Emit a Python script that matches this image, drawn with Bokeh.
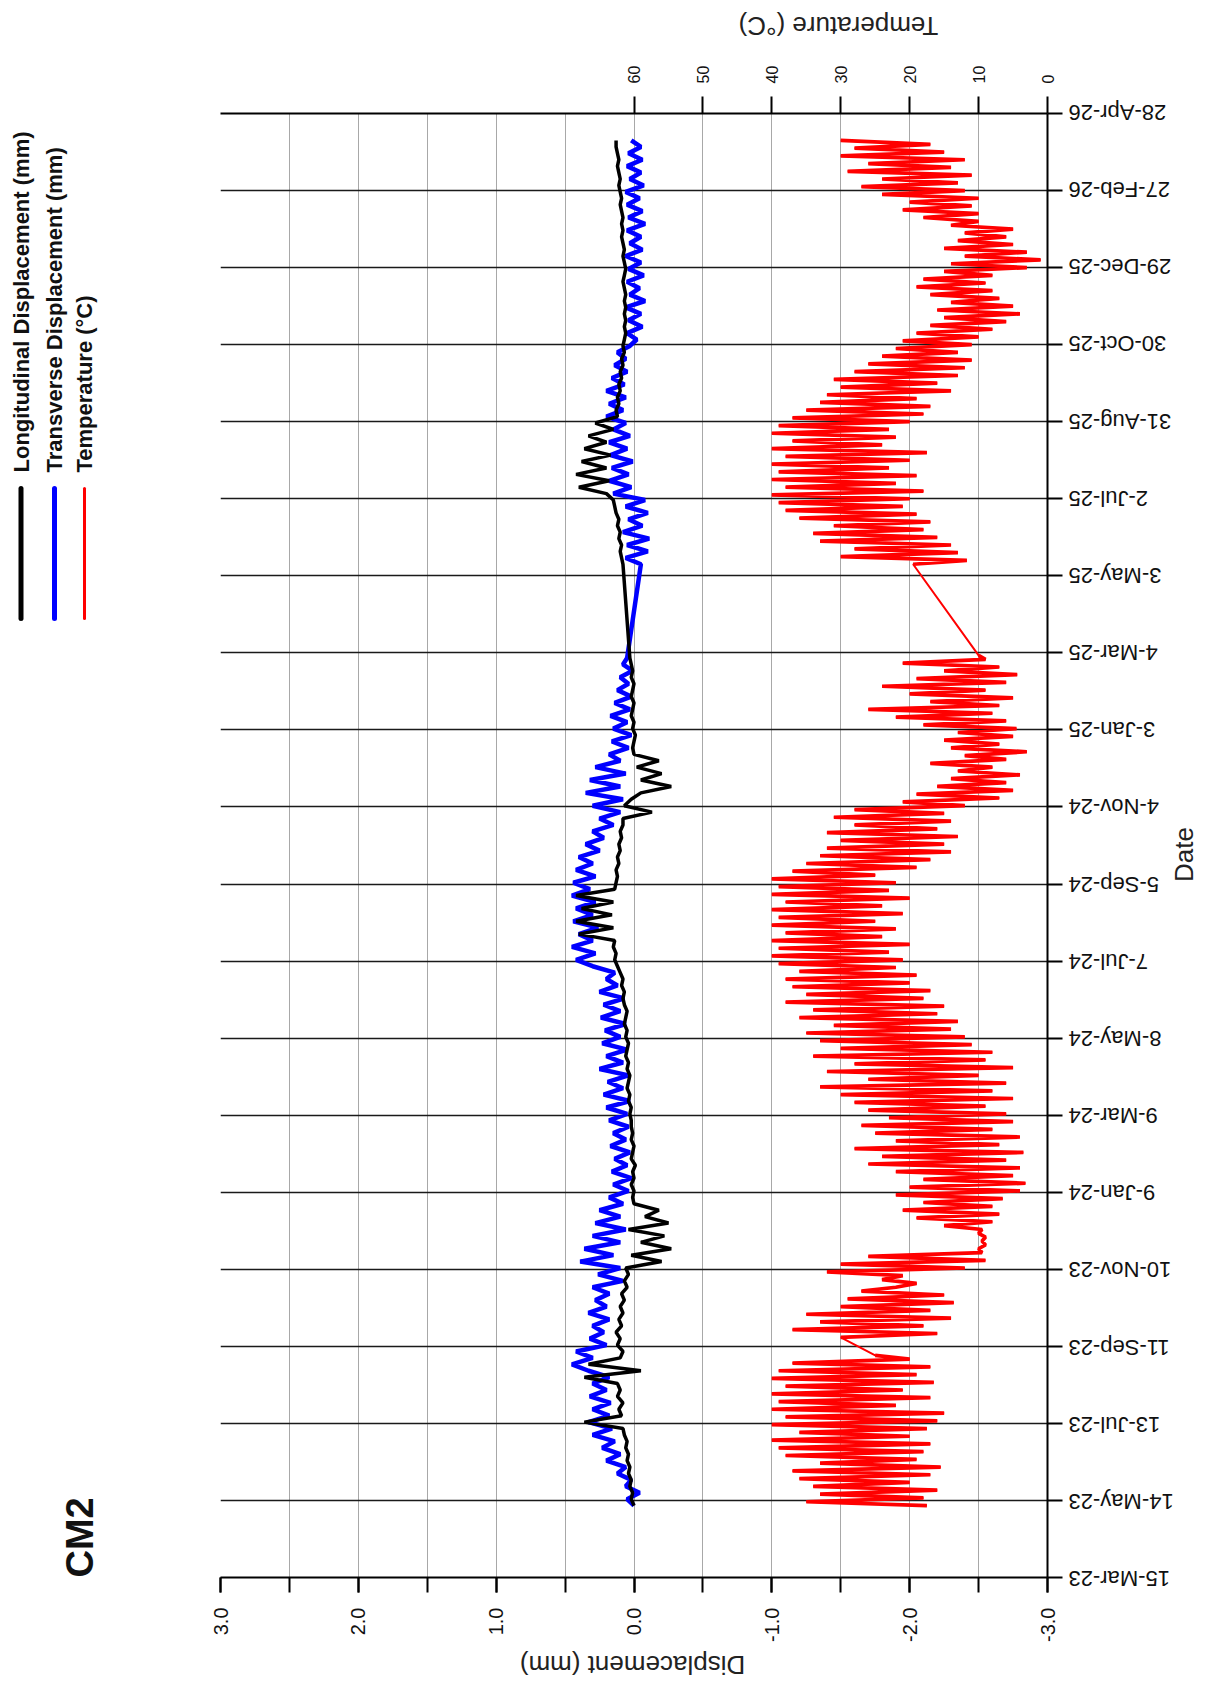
import math
import pandas as pd
from bokeh.plotting import figure
from bokeh.layouts import row, column
from bokeh.models import (Range1d, LinearAxis, FixedTicker, ColumnDataSource, PrintfTickFormatter)
from bokeh.core.properties import value
from bokeh.embed import file_html
from bokeh.resources import INLINE

# ---------------- data ----------------
date_tick_values = ["2023-03-15", "2023-05-14", "2023-07-13", "2023-09-11", "2023-11-10",
                    "2024-01-09", "2024-03-09", "2024-05-08", "2024-07-07", "2024-09-05",
                    "2024-11-04", "2025-01-03", "2025-03-04", "2025-05-03", "2025-07-02",
                    "2025-08-31", "2025-10-30", "2025-12-29", "2026-02-27", "2026-04-28"]
date_tick_labels = ["15-Mar-23", "14-May-23", "13-Jul-23", "11-Sep-23", "10-Nov-23",
                    "9-Jan-24", "9-Mar-24", "8-May-24", "7-Jul-24", "5-Sep-24",
                    "4-Nov-24", "3-Jan-25", "4-Mar-25", "3-May-25", "2-Jul-25",
                    "31-Aug-25", "30-Oct-25", "29-Dec-25", "27-Feb-26", "28-Apr-26"]
disp_ticks = [-3.0, -2.0, -1.0, 0.0, 1.0, 2.0, 3.0]
disp_minor_ticks = [-3.0, -2.5, -2.0, -1.5, -1.0, -0.5, 0.0, 0.5, 1.0, 1.5, 2.0, 2.5, 3.0]
temp_ticks = [0, 10, 20, 30, 40, 50, 60]

# temperature (deg C), 3-day readings per logging segment
temp_seg_starts = ["2023-05-10", "2023-09-18", "2025-05-12"]
temp_step_days = 3
temp_2023 = [17.5, 35, 18, 33, 16, 34, 20, 36, 17, 37, 15.5, 33, 19, 38, 18, 39, 17, 40, 20, 36,
             17.5, 40, 16, 38, 15, 40, 22, 39, 17, 40, 21, 38, 16.5, 40, 19, 39, 17, 37, 20, 25]
temp_2023_2025 = [30, 16, 37, 18, 33, 14, 35, 17, 30, 13.6, 29, 15, 27,
                  22, 19, 24, 21, 32, 12, 30, 9, 26, 9.5,
                  10, 9, 9.5, 9, 10, 9.5,
                  15, 8, 19, 7, 21, 8, 18, 6.5, 22,
                  4, 20, 3.2, 18, 5, 22, 4,
                  26, 6, 24, 3.5, 28, 7, 22, 4, 25, 8, 27, 5, 23, 6, 26, 9, 28, 5,
                  30, 8, 33, 6, 26, 10, 32, 5, 28, 9, 34, 8, 30, 11, 33,
                  12, 35, 14, 31, 13, 36, 16, 34, 15, 38, 18, 35, 17, 37, 20, 38, 19, 36, 22, 39,
                  21, 40, 23, 39, 20, 40, 24, 38, 22, 40, 25, 39, 21, 40, 24, 38, 20, 40, 23, 39,
                  22, 40, 25, 37, 19, 35, 17, 33, 14, 32, 15, 30, 13, 32, 16, 28, 14, 31, 15, 28,
                  12, 21, 7, 19, 5, 16, 6, 14, 4, 13, 8, 17, 6, 12, 3, 14, 7, 15, 5, 13,
                  4.5, 18, 6, 22, 8, 26, 7, 17, 5, 20, 9, 24, 6, 19, 4.4, 15, 7, 21, 9, 10]
temp_2025 = [19.5, 11.7, 30, 13, 28, 14, 33, 16, 34, 18, 31, 17, 36, 19, 38, 21, 39,
             20, 40, 18, 38, 22, 40, 19, 39, 23, 40, 20, 38, 17.5, 40, 24, 37, 22, 40, 23, 39,
             20, 37, 18, 35, 17, 33, 19, 32, 14, 30, 16, 31, 13, 28, 12, 26, 11, 24, 13, 22,
             11, 21, 10, 19, 8, 17, 6, 15, 4, 16, 5, 14, 7, 17, 8, 19, 9, 18, 8, 15,
             3, 14, 1, 12, 3, 15, 5, 13, 6, 12, 5, 14,
             10, 18, 10, 21, 11, 20, 10, 24, 12, 27, 13, 24, 11, 29, 14, 26, 12, 30, 15, 28, 17, 30]

# displacement (mm), 5-day readings per logging segment
disp_seg_starts = ["2023-05-10", "2025-05-12"]
disp_step_days = 5
long_2023_2025 = [0.0, 0.02, 0.01, 0.03, 0.02, 0.04, 0.03, 0.05, 0.04, 0.06, 0.05, 0.07, 0.08,
                  0.36,
                  0.09, 0.11, 0.08, 0.12, 0.1, 0.12,
                  0.36, -0.05, 0.33, 0.1,
                  0.08, 0.12, 0.1, 0.13, 0.09, 0.11, 0.08, 0.1, 0.07, 0.09,
                  0.05, 0.07, 0.04,
                  0.06, -0.2, 0.02, -0.27, -0.05, -0.22, 0.04, -0.25, -0.08, -0.18, 0.0,
                  0.01, 0.0, 0.02, 0.0, 0.01, -0.01, 0.02, 0.01, 0.0, 0.02, 0.01, 0.02,
                  0.02, 0.03, 0.02, 0.04, 0.03, 0.05, 0.04, 0.03, 0.05, 0.04, 0.06, 0.05,
                  0.04, 0.06, 0.05, 0.07, 0.06, 0.05, 0.07, 0.08, 0.07, 0.09, 0.08, 0.1,
                  0.12, 0.14, 0.13, 0.15, 0.14, 0.4, 0.15, 0.42, 0.16, 0.38, 0.15, 0.42, 0.14,
                  0.13, 0.12, 0.13, 0.11, 0.12, 0.1, 0.11, 0.09, 0.1, 0.08,
                  0.08, -0.13, 0.07, 0.02, -0.05, -0.27, -0.05, -0.2, -0.02, -0.18,
                  0.0, 0.01, 0.0, -0.01, 0.01, 0.0, 0.02, 0.01, 0.0, 0.02, 0.01, 0.0, 0.02, 0.01, 0.02, 0.03]
long_2025_2026 = [0.08, 0.09, 0.1, 0.09, 0.11, 0.1, 0.12, 0.11, 0.13, 0.14, 0.15,
                  0.2, 0.4, 0.18, 0.42, 0.2, 0.38, 0.17, 0.36, 0.2, 0.33, 0.15, 0.28,
                  0.12, 0.13, 0.11, 0.12, 0.1, 0.11, 0.09, 0.1, 0.08, 0.09, 0.07, 0.08,
                  0.07, 0.06, 0.07, 0.06, 0.07, 0.06, 0.07, 0.06, 0.07, 0.08,
                  0.07, 0.06, 0.07, 0.08, 0.07, 0.08, 0.09, 0.08, 0.09, 0.08,
                  0.09, 0.1, 0.09, 0.1, 0.11, 0.1, 0.11, 0.12, 0.11, 0.12, 0.13, 0.13]
trans_2023_2025 = [0.0, 0.05, -0.04, 0.06, 0.02,
                   0.12, 0.06, 0.2, 0.1, 0.23, 0.14,
                   0.3, 0.16, 0.33, 0.18, 0.3, 0.17, 0.32, 0.2, 0.3, 0.18,
                   0.33, 0.45, 0.3, 0.42,
                   0.2, 0.32, 0.22, 0.3, 0.18, 0.33, 0.2, 0.28, 0.18,
                   0.3, 0.08, 0.26,
                   0.1, 0.39, 0.15, 0.36, 0.1, 0.3, 0.06, 0.28, 0.1, 0.25, 0.08,
                   0.18, 0.04, 0.15, 0.02, 0.16, 0.05, 0.14, 0.03, 0.17, 0.06, 0.15, 0.04,
                   0.18, 0.05, 0.2, 0.03, 0.22, 0.08, 0.19, 0.04, 0.25, 0.08, 0.2, 0.05,
                   0.23, 0.1, 0.21, 0.06, 0.24, 0.1, 0.22, 0.07, 0.25, 0.12, 0.2, 0.14,
                   0.3, 0.42, 0.28, 0.45, 0.3, 0.4, 0.26, 0.44, 0.3, 0.42, 0.28, 0.45, 0.32,
                   0.44, 0.28, 0.42, 0.3, 0.4, 0.25, 0.35, 0.22, 0.3, 0.15, 0.25, 0.1,
                   0.3, 0.08, 0.35, 0.1, 0.32, 0.06, 0.28, 0.1,
                   0.18, 0.04, 0.16, 0.02, 0.15, 0.05, 0.17, 0.03, 0.14, 0.02, 0.12, 0.04, 0.1, 0.01, 0.08, 0.05]
trans_2025_2026 = [-0.05, 0.06, -0.1, 0.05, -0.11, 0.08, -0.06, 0.04, -0.1, 0.06, -0.08,
                   0.15, 0.02, 0.18, 0.04, 0.16, 0.01, 0.17, 0.05, 0.18, 0.03, 0.15, 0.06,
                   0.2, 0.08, 0.18, 0.06, 0.2, 0.07, 0.16, 0.05, 0.14, 0.06, 0.12, 0.03,
                   -0.02, 0.05, -0.06, 0.04, -0.05, 0.06, -0.08, 0.03, -0.04, 0.05,
                   -0.07, 0.04, -0.05, 0.06, -0.06, 0.03, -0.05, 0.05, -0.08, 0.04,
                   -0.06, 0.05, -0.04, 0.06, -0.07, 0.03, -0.05, 0.05, -0.06, 0.04, -0.05, 0.02]

legend_labels = ["Longitudinal Displacement (mm)", "Transverse Displacement (mm)", "Temperature (°C)"]
series_colors = ["#000000", "#0000ff", "#ff0000"]
title_text = "CM2"
x_axis_title = "Displacement (mm)"
x2_axis_title = "Temperature (°C)"
y_axis_title = "Date"

FONT = "Liberation Sans"


def seg_dates(start, n, step):
    return list(pd.date_range(start, periods=n, freq=f"{step}D"))


temp_segments = [temp_2023, temp_2023_2025, temp_2025]
temp_seg_dates = [seg_dates(s, len(v), temp_step_days) for s, v in zip(temp_seg_starts, temp_segments)]
temp_vals = sum(temp_segments, [])
temp_dates = sum(temp_seg_dates, [])
disp_dates = (seg_dates(disp_seg_starts[0], len(long_2023_2025), disp_step_days)
              + seg_dates(disp_seg_starts[1], len(long_2025_2026), disp_step_days))
long_vals = long_2023_2025 + long_2025_2026
trans_vals = trans_2023_2025 + trans_2025_2026

# ---------------- layout geometry (page px; layout starts at 0,0) ----------------
FW, FH = 827, 1466                  # plot frame
BL, BR, BT, BB = 16, 20, 50, 66     # borders of main figure
PW, PH = BL + FW + BR, BT + FH + BB
LW = 204                            # left strip (legend, title)
RW = 131                            # right strip (date labels)
TOP_H, BOT_H = 62, 36               # strips above / below
TOTAL_W = LW + PW + RW
ROW_TOP = TOP_H
FRAME_TOP = ROW_TOP + BT            # 112
FRAME_BOT = FRAME_TOP + FH          # 1578
ROW_BOT = ROW_TOP + PH
R_LEFT = LW + PW

t0 = pd.Timestamp(date_tick_values[0])
t1 = pd.Timestamp(date_tick_values[-1])
t0_ms = t0.value // 10**6
t1_ms = t1.value // 10**6
ms_per_px = (t1_ms - t0_ms) / FH


def strip(w, h):
    f = figure(width=w, height=h, title=None,
               x_axis_location=None, y_axis_location=None, output_backend="svg",
               toolbar_location=None, min_border_left=0, min_border_right=0,
               min_border_top=0, min_border_bottom=0)
    f.outline_line_color = None
    f.grid.visible = False
    f.background_fill_color = "white"
    f.border_fill_color = "white"
    return f


# ---------------- main chart ----------------
p = figure(width=PW, height=PH, title=None,
           x_range=Range1d(3, -3), y_range=Range1d(start=t0, end=t1),
           y_axis_type="datetime", y_axis_location="right", x_axis_location="below",
           output_backend="svg", toolbar_location=None,
           min_border_left=BL, min_border_top=BT, min_border_right=BR, min_border_bottom=BB)
p.background_fill_color = "white"
p.border_fill_color = "white"
p.outline_line_color = None
p.extra_x_ranges = {"temp": Range1d(120, 0)}

p.line(x=temp_vals, y=temp_dates, x_range_name="temp", line_color=series_colors[2], line_width=2)
p.multi_line(xs=temp_segments, ys=temp_seg_dates, x_range_name="temp",
             line_color=series_colors[2], line_width=3.7)
src_d = ColumnDataSource(dict(l=long_vals, t=trans_vals, y=disp_dates))
p.line(x="t", y="y", source=src_d, line_color=series_colors[1], line_width=4.5)
p.line(x="l", y="y", source=src_d, line_color=series_colors[0], line_width=3.5)

# bottom: displacement axis
xa = p.xaxis[0]
xa.ticker = FixedTicker(ticks=disp_ticks, minor_ticks=disp_minor_ticks)
xa.formatter = PrintfTickFormatter(format="%.1f")
xa.major_label_orientation = math.pi / 2
xa.major_label_text_font = FONT
xa.major_label_text_font_size = "20px"
xa.major_label_text_color = "#111111"
xa.major_label_standoff = 15
xa.major_tick_out = 15
xa.major_tick_in = 0
xa.minor_tick_out = 15
xa.minor_tick_in = 0
xa.axis_line_width = 2
xa.major_tick_line_width = 2
xa.minor_tick_line_width = 2

# right: date axis (ticks only; labels drawn in the right strip)
tick_ms = [pd.Timestamp(d).value // 10**6 for d in date_tick_values]
ya = p.yaxis[0]
ya.ticker = FixedTicker(ticks=tick_ms)
ya.major_label_overrides = {float(k): "" for k in tick_ms}
ya.major_label_text_font_size = "1px"
ya.major_label_standoff = 0
ya.major_tick_out = 15
ya.major_tick_in = 0
ya.minor_tick_out = 0
ya.minor_tick_in = 0
ya.axis_line_width = 2
ya.major_tick_line_width = 2

# top: temperature axis
ta = LinearAxis(x_range_name="temp", ticker=FixedTicker(ticks=temp_ticks))
ta.major_label_orientation = math.pi / 2
ta.major_label_text_font = FONT
ta.major_label_text_font_size = "16px"
ta.major_label_text_color = "#111111"
ta.major_label_standoff = 13
ta.major_tick_out = 17
ta.major_tick_in = 0
ta.minor_tick_out = 0
ta.minor_tick_in = 0
ta.axis_line_width = 2
ta.major_tick_line_width = 2
p.add_layout(ta, "above")

p.xgrid.grid_line_color = "#a8a8a8"
p.xgrid.minor_grid_line_color = "#a8a8a8"
p.xgrid.grid_line_width = 1
p.ygrid.grid_line_color = "#1a1a1a"
p.ygrid.grid_line_width = 1.3

# ---------------- strips ----------------
q = strip(LW, PH)       # left: legend + title
r = strip(RW, PH)       # right: date labels + axis title
top = strip(TOTAL_W, TOP_H)
bot = strip(TOTAL_W, BOT_H)

aligned = True
try:
    for f in (q, p, r, top, bot):
        f.frame_align = False
    aligned = False
except Exception:
    aligned = True

if aligned:
    q_top, q_bot = FRAME_TOP, FRAME_BOT
    r_range = Range1d(start=t0_ms, end=t1_ms)
else:
    q_top, q_bot = ROW_TOP, ROW_BOT
    r_range = Range1d(start=t0_ms - (ROW_BOT - FRAME_BOT) * ms_per_px,
                      end=t1_ms + (FRAME_TOP - ROW_TOP) * ms_per_px)

q.x_range = Range1d(0, LW)
q.y_range = Range1d(-q_bot, -q_top)           # y = -page_y
r.x_range = Range1d(0, RW)
r.y_range = r_range
top.x_range = Range1d(0, TOTAL_W)
top.y_range = Range1d(-TOP_H, 0)
bot.x_range = Range1d(0, TOTAL_W)
bot.y_range = Range1d(-(ROW_BOT + BOT_H), -ROW_BOT)

# date tick labels (upside down, starting just right of the ticks)
r.text(x=[1068 - R_LEFT] * len(tick_ms), y=tick_ms, text=date_tick_labels, angle=math.pi,
       text_align="right", text_baseline="middle", text_font=value(FONT),
       text_font_size="22px", text_color="#111111")
r.text(x=[1183 - R_LEFT], y=[t1_ms - (854 - FRAME_TOP) * ms_per_px], text=[y_axis_title],
       angle=math.pi / 2, text_align="center", text_baseline="middle", text_font=value(FONT),
       text_font_size="26px", text_color="#222222")

# legend
leg_x = [20.5, 54, 84]
leg_w = [5, 5, 3]
q.segment(x0=leg_x, y0=[-618] * 3, x1=leg_x, y1=[-488] * 3,
          line_color=series_colors, line_width=leg_w, line_cap="round")
q.text(x=leg_x, y=[-472] * 3, text=legend_labels, angle=math.pi / 2,
       text_align="left", text_baseline="middle", text_font=value(FONT),
       text_font_size="22px", text_font_style="bold", text_color="#111111")
q.text(x=[79], y=[-1577], text=[title_text], angle=math.pi / 2,
       text_align="left", text_baseline="middle", text_font=value(FONT),
       text_font_size="38px", text_font_style="bold", text_color="#111111")

# axis titles
top.text(x=[838], y=[-25], text=[x2_axis_title], angle=math.pi,
         text_align="center", text_baseline="middle", text_font=value(FONT),
         text_font_size="26px", text_color="#222222")
bot.text(x=[632], y=[-1664], text=[x_axis_title], angle=math.pi,
         text_align="center", text_baseline="middle", text_font=value(FONT),
         text_font_size="26px", text_color="#222222")

layout = column(top, row(q, p, r), bot)
open("out.html", "w").write(file_html(layout, INLINE))
